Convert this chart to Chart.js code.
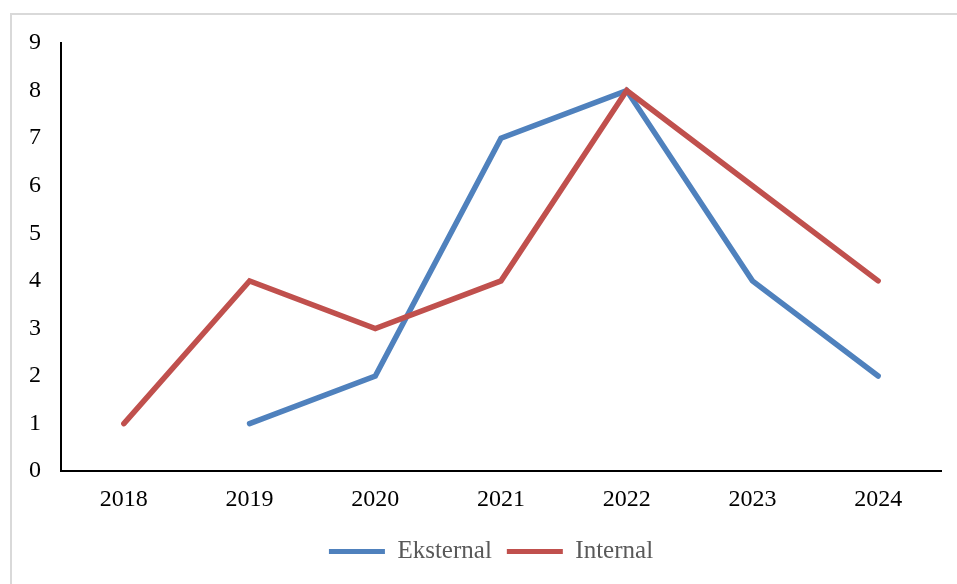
<!DOCTYPE html>
<html>
<head>
<meta charset="utf-8">
<script src="https://cdn.jsdelivr.net/npm/chart.js@4.4.1/dist/chart.umd.min.js"></script>
<style>
  html, body { margin: 0; padding: 0; background: #fff; }
  #frame {
    position: absolute; left: 10px; top: 13px; width: 960px; height: 590px;
    border-top: 2px solid #d9d9d9; border-left: 2px solid #d9d9d9;
  }
  #wrap { position: absolute; left: 0; top: 0; width: 957px; height: 584px; }
</style>
</head>
<body>
<div id="frame"></div>
<div id="wrap"><canvas id="myChart" width="957" height="584"></canvas></div>
<script>
// chart data
var years = ['2018', '2019', '2020', '2021', '2022', '2023', '2024'];
var eksternal = [null, 1, 2, 7, 8, 4, 2];
var internal = [1, 4, 3, 4, 8, 6, 4];
var yTicks = [0, 1, 2, 3, 4, 5, 6, 7, 8, 9];

var fontFamily = '"Liberation Serif", "Times New Roman", serif';

// nudge the legend a bit (it sits off-centre in the original)
var legendShift = {
    id: 'legendShift',
    afterLayout: function(chart) {
        var lg = chart.legend;
        if (!lg) return;
        lg.left += 16; lg.right += 16;
        lg.top -= 4; lg.bottom -= 4;
        lg.adjustHitBoxes && lg.adjustHitBoxes();
    }
};

var ctx = document.getElementById('myChart').getContext('2d');
var myChart = new Chart(ctx, {
    type: 'line',
    data: {
        labels: years,
        datasets: [{
            label: 'Eksternal',
            data: eksternal,
            borderColor: '#4f81bd',
            backgroundColor: '#4f81bd',
            borderWidth: 5.5,
            borderCapStyle: 'round',
            pointRadius: 0,
            tension: 0,
            order: 2
        }, {
            label: 'Internal',
            data: internal,
            borderColor: '#c0504d',
            backgroundColor: '#c0504d',
            borderWidth: 5.5,
            borderCapStyle: 'round',
            pointRadius: 0,
            tension: 0,
            order: 1
        }]
    },
    plugins: [legendShift],
    options: {
        responsive: false,
        animation: false,
        layout: { padding: { left: 9, right: 16, top: 43, bottom: 6 } },
        plugins: {
            tooltip: { enabled: false },
            legend: {
                position: 'bottom',
                labels: {
                    boxWidth: 56,
                    boxHeight: 5,
                    useBorderRadius: true,
                    borderRadius: 2.5,
                    padding: 15,
                    color: '#595959',
                    font: { family: fontFamily, size: 25 },
                    generateLabels: function(chart) {
                        return chart.data.datasets.map(function(ds, i) {
                            return {
                                text: ds.label,
                                fillStyle: ds.borderColor,
                                strokeStyle: ds.borderColor,
                                lineWidth: 0,
                                fontColor: '#595959',
                                datasetIndex: i
                            };
                        });
                    }
                }
            }
        },
        scales: {
            x: {
                offset: true,
                grid: { display: false, drawTicks: false },
                border: { display: true, color: '#000', width: 2 },
                ticks: { color: '#000', padding: 14, font: { family: fontFamily, size: 24 } }
            },
            y: {
                min: 0,
                max: 9,
                afterBuildTicks: function(axis) {
                    axis.ticks = yTicks.map(function(v) { return { value: v }; });
                },
                grid: { display: false, drawTicks: false },
                border: { display: true, color: '#000', width: 2 },
                ticks: { color: '#000', padding: 20, font: { family: fontFamily, size: 24 } }
            }
        }
    }
});
</script>
</body>
</html>
